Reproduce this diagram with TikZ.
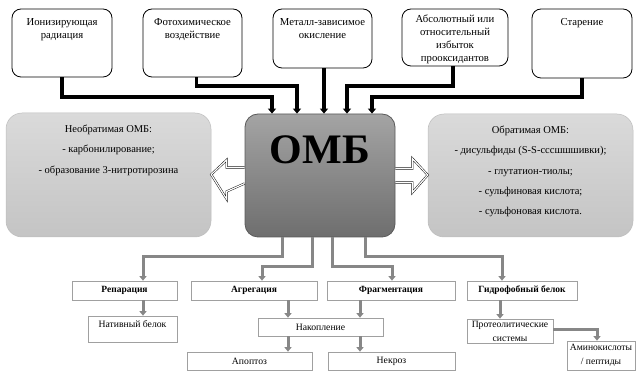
\documentclass[tikz,border=0pt]{standalone}
\usepackage{fontspec}
\setmainfont{Liberation Serif}
\usetikzlibrary{calc,arrows.meta}
\definecolor{conngray}{RGB}{135,135,135}
\definecolor{boxedge}{RGB}{160,160,160}
\begin{document}
\begin{tikzpicture}[x=1pt,y=-1pt,
  topbox/.style={draw=black,line width=0.8pt,rounded corners=9pt,fill=white,inner sep=0pt},
  toptext/.style={font=\fontsize{10.7}{13}\selectfont,align=center,inner sep=0pt},
  sidebox/.style={draw=boxedge!70,line width=0.5pt,rounded corners=16pt,top color={rgb,255:red,218;green,218;blue,218},bottom color={rgb,255:red,196;green,196;blue,196},inner sep=0pt},
  sidetext/.style={font=\fontsize{10.5}{20.3}\selectfont,align=center,inner sep=0pt},
  ombbox/.style={draw={rgb,255:red,90;green,90;blue,90},line width=0.8pt,rounded corners=13pt,top color={rgb,255:red,164;green,164;blue,164},bottom color={rgb,255:red,110;green,110;blue,110},inner sep=0pt},
  lowbox/.style={draw=boxedge,line width=0.7pt,fill=white,inner sep=0pt},
  lowtext/.style={font=\fontsize{9.7}{13}\selectfont,align=center,inner sep=0pt},
  boldtext/.style={font=\fontsize{9.5}{13}\selectfont\bfseries,align=center,inner sep=0pt},
  blk/.style={draw=black,line width=3.5pt,line join=miter,-{Triangle[width=8pt,length=5pt]}},
  gry/.style={draw=conngray,line width=3pt,line join=miter,-{Triangle[width=7pt,length=4.5pt]}},
  hollow/.style={draw=black,line width=0.45pt,double=white,double distance=1.2pt,fill=white,line join=miter}
]
\useasboundingbox (0,0) rectangle (643,379);

% top boxes
\node[topbox,minimum width=100pt,minimum height=68pt] (b1) at (62,43) {};
\node[topbox,minimum width=99pt,minimum height=68pt] (b2) at (192.5,43) {};
\node[topbox,minimum width=99pt,minimum height=59pt] (b3) at (322.5,38.5) {};
\node[topbox,minimum width=106pt,minimum height=57pt] (b4) at (455,37.5) {};
\node[topbox,minimum width=100pt,minimum height=69pt] (b5) at (582,43.5) {};
\node[toptext,anchor=north] (t1) at ($(b1.north)+(0,10)$) {Ионизирующая\\радиация};
\node[toptext,anchor=north] (t2) at ($(b2.north)+(0,10)$) {Фотохимическое\\воздействие};
\node[toptext,anchor=north] (t3) at ($(b3.north)+(0,10)$) {Металл-зависимое\\окисление};
\node[toptext] (t4) at ($(b4.center)+(0,1.5)$) {Абсолютный или\\относительный\\избыток\\прооксидантов};
\node[toptext,anchor=north] (t5) at ($(b5.north)+(0,10)$) {Старение};

% side boxes
\node[sidebox,minimum width=205pt,minimum height=124pt] (irr) at (108.5,175) {};
\node[sidebox,minimum width=205pt,minimum height=123pt] (rev) at (530.5,175.5) {};
\node[sidetext,anchor=north] (irrt) at ($(irr.north)+(0,12)$) {Необратимая ОМБ:\\- карбонилирование;\\- образование 3-нитротирозина};
\node[sidetext,anchor=north] (revt) at ($(rev.north)+(0,12)$) {Обратимая ОМБ:\\- дисульфиды (S-S-сссшшшивки);\\- глутатион-тиолы;\\- сульфиновая кислота;\\- сульфоновая кислота.};

% central box
\node[ombbox,minimum width=150pt,minimum height=123pt] (omb) at (320,175.5) {};
\node[font=\fontsize{42}{42}\selectfont\bfseries,inner sep=0pt] (ombt) at (320,149.5) {ОМБ};

% top connectors
\coordinate (k1) at (272,97);
\coordinate (k2) at (297,86);
\coordinate (k3) at (324,86);
\coordinate (k4) at (347,86);
\coordinate (k5) at (372,97);
\draw[blk] (b1.south) |- (k1) -- (k1 |- omb.north);
\draw[blk] ([xshift=4pt]b2.south) |- (k2) -- (k2 |- omb.north);
\draw[blk] (k3 |- b3.south) -- (k3 |- omb.north);
\draw[blk] ([xshift=-2pt]b4.south) |- (k4) -- (k4 |- omb.north);
\draw[blk] (b5.south) |- (k5) -- (k5 |- omb.north);

% hollow arrows
\draw[hollow] ($(omb.west)+(0,-8)$) -- ++(-18,0) -- ++(0,-7.5) -- (irr.east |- 0,174.5) -- ($(omb.west)+(-18,23.5)$) -- ++(0,-7.5) -- ($(omb.west)+(0,8)$);
\draw[hollow] ($(omb.east)+(0,-7)$) -- ++(17,0) -- ++(0,-10) -- (rev.west |- 0,175) -- ($(omb.east)+(17,17)$) -- ++(0,-10) -- ($(omb.east)+(0,7)$);

% lower boxes
\node[lowbox,minimum width=105pt,minimum height=19pt] (rep) at (124.5,290.5) {};
\node[lowbox,minimum width=126pt,minimum height=19pt] (agg) at (254,290.5) {};
\node[lowbox,minimum width=128pt,minimum height=19pt] (frg) at (391,290.5) {};
\node[lowbox,minimum width=110pt,minimum height=19pt] (hyd) at (522,290.5) {};
\node[boldtext] at (rep.center) {Репарация};
\node[boldtext] at (agg.center) {Агрегация};
\node[boldtext] at (frg.center) {Фрагментация};
\node[boldtext] at (hyd.center) {Гидрофобный белок};

\node[lowbox,minimum width=89pt,minimum height=26pt] (nat) at (132.5,329) {};
\node[lowtext,anchor=north] at ($(nat.north)+(0,5)$) {Нативный белок};
\node[lowbox,minimum width=125pt,minimum height=18pt] (nak) at (320.5,327) {};
\node[lowtext] at (nak.center) {Накопление};
\node[lowbox,minimum width=125pt,minimum height=18pt] (apo) at (249.5,361) {};
\node[lowtext] at (apo.center) {Апоптоз};
\node[lowbox,minimum width=127pt,minimum height=18pt] (nec) at (391.5,361) {};
\node[lowtext] at (nec.center) {Некроз};
\node[lowbox,minimum width=86pt,minimum height=24pt] (pro) at (510,331) {};
\node[lowtext,font=\fontsize{9.6}{14}\selectfont] at (pro.center) {Протеолитические\\системы};
\node[lowbox,minimum width=68pt,minimum height=29pt] (ami) at (601,355.5) {};
\node[lowtext,font=\fontsize{9.6}{14}\selectfont] at (ami.center) {Аминокислоты\\/ пептиды};

% lower connectors
\coordinate (g1) at (143,257);
\coordinate (g2) at (262,267);
\coordinate (g3) at (392,267);
\coordinate (g4) at (502,257);
\draw[gry] ([xshift=-38pt]omb.south) |- (g1) -- (g1 |- rep.north);
\draw[gry] ([xshift=-8pt]omb.south) |- (g2) -- (g2 |- agg.north);
\draw[gry] ([xshift=12pt]omb.south) |- (g3) -- (g3 |- frg.north);
\draw[gry] ([xshift=45pt]omb.south) |- (g4) -- (g4 |- hyd.north);
\coordinate (v1) at (143,0);
\coordinate (v2) at (288,0);
\coordinate (v3) at (360,0);
\coordinate (v4) at (500,0);
\coordinate (v5) at (597,330);
\draw[gry] (rep.south -| v1) -- (nat.north -| v1);
\draw[gry] (agg.south -| v2) -- (nak.north -| v2);
\draw[gry] (frg.south -| v3) -- (nak.north -| v3);
\draw[gry] (nak.south -| v2) -- (apo.north -| v2);
\draw[gry] (nak.south -| v3) -- (nec.north -| v3);
\draw[gry] (hyd.south -| v4) -- (pro.north -| v4);
\draw[gry] (pro.east |- v5) -| (ami.north -| v5);
\end{tikzpicture}
\end{document}
